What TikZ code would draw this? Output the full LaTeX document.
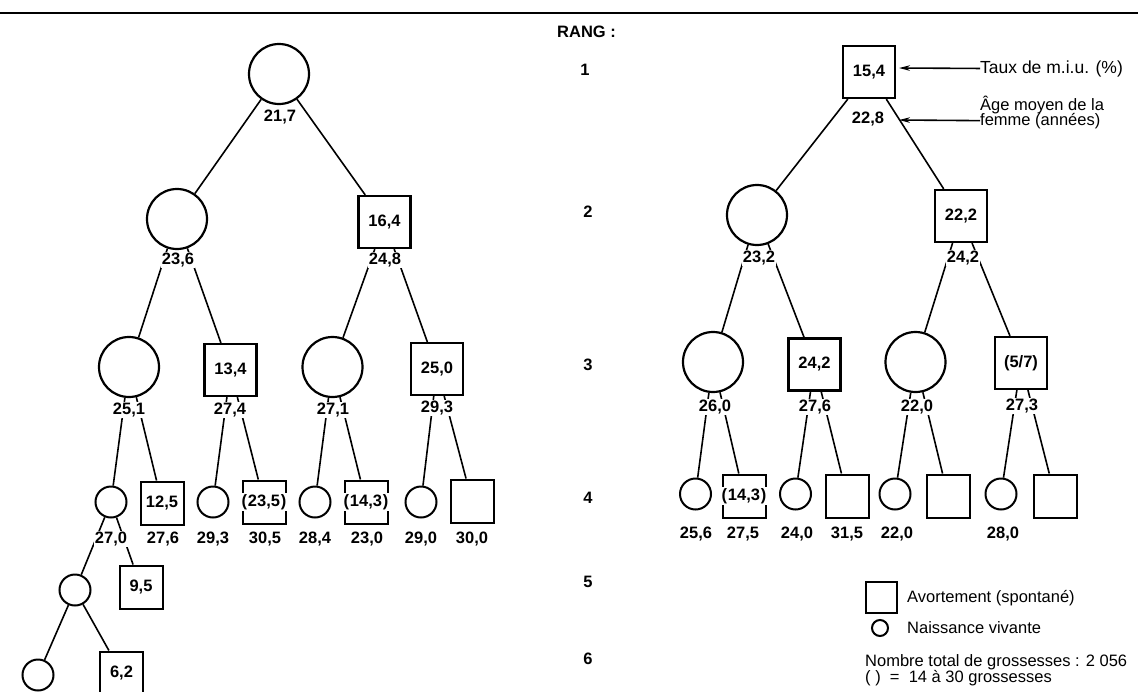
\documentclass[tikz,border=0pt]{standalone}
\usepackage{fontspec}
\setmainfont{Liberation Sans}
\usetikzlibrary{arrows.meta}
\newcommand\numfont{\fontsize{16.5}{18}\selectfont\bfseries}
\newcommand\legfont{\fontsize{16.5}{17}\selectfont}
\begin{document}
\begin{tikzpicture}[x=1pt,y=-1pt,
  bc/.style={draw, circle, line width=2.2pt, minimum size=60pt, inner sep=0pt},
  sc/.style={draw, circle, line width=2pt, minimum size=31pt, inner sep=0pt},
  bs/.style={draw, rectangle, line width=2.2pt, minimum size=52pt, inner sep=0pt, font=\numfont},
  ss/.style={draw, rectangle, line width=2pt, minimum size=43pt, inner sep=0pt, font=\numfont},
  brk/.style={fill=white, inner xsep=0pt, inner ysep=1pt, font=\numfont},
  lab/.style={fill=white, inner sep=1pt, font=\numfont},
  edge/.style={line width=1.6pt},
  rang/.style={font=\numfont},
  leg/.style={font=\legfont, inner sep=0pt, anchor=base west},
  ptr/.style={line width=1.6pt, -{Stealth[length=11pt,width=5.5pt]}}]
\useasboundingbox (0,0) rectangle (1138,691);
\clip (0,0) rectangle (1138,691);
\draw[line width=2.2pt] (0,13) -- (1138,13);

% ---------- left tree ----------
\node[bc] (L1) at (279,74) {};
\node[bc] (L2a) at (177,219) {};
\node[bs] (L2b) at (384.5,222) {16,4};
\node[bc] (L3a) at (129,367) {};
\node[bs] (L3b) at (230.5,370) {13,4};
\node[bc] (L3c) at (332.5,367) {};
\node[bs] (L3d) at (437,369) {25,0};
\node[sc] (L4a) at (111,502) {};
\node[ss] (L4b) at (162,503) {12,5};
\node[sc] (L4c) at (213,502) {};
\node[ss] (L4d) at (264,502) {};
\node[sc] (L4e) at (315,502) {};
\node[ss] (L4f) at (366,502) {};
\node[sc] (L4g) at (421,502) {};
\node[ss] (L4h) at (472,501) {};
\node[sc] (L5a) at (75,590) {};
\node[ss] (L5b) at (141,587) {9,5};
\node[sc] (L6a) at (38,675) {};
\node[ss] (L6b) at (121.5,673) {6,2};

\foreach \a/\b in {L1/L2a,L1/L2b,L2a/L3a,L2a/L3b,L2b/L3c,L2b/L3d,
  L3a/L4a,L3a/L4b,L3b/L4c,L3b/L4d,L3c/L4e,L3c/L4f,L3d/L4g,L3d/L4h,
  L4a/L5a,L4a/L5b,L5a/L6a,L5a/L6b}
  \draw[edge] (\a) -- (\b);

\node[brk] (L4dt) at (L4d) {\hbox to 45pt{(\hfil 23,5\hfil)}};
\node[brk] (L4ft) at (L4f) {\hbox to 45pt{(\hfil 14,3\hfil)}};

\node[lab] (l1) at (280,117) {21,7};
\node[lab] (l2a) at (178,260) {23,6};
\node[lab] (l2b) at (385,260) {24,8};
\node[lab] (l3a) at (129,410) {25,1};
\node[lab] (l3b) at (230,410) {27,4};
\node[lab] (l3c) at (333,410) {27,1};
\node[lab] (l3d) at (437,408) {29,3};
\node[lab] (l4a) at (111,539) {27,0};
\node[lab] (l4b) at (163,539) {27,6};
\node[lab] (l4c) at (213,539) {29,3};
\node[lab] (l4d) at (265,539) {30,5};
\node[lab] (l4e) at (315,539) {28,4};
\node[lab] (l4f) at (367,539) {23,0};
\node[lab] (l4g) at (421,539) {29,0};
\node[lab] (l4h) at (472,539) {30,0};

% ---------- rank column ----------
\node[rang, anchor=base west, inner sep=0pt] (rang) at (557,37) {RANG :};
\node[rang] (r1) at (585,70) {1};
\node[rang] (r2) at (588,212) {2};
\node[rang] (r3) at (588,365) {3};
\node[rang] (r4) at (588,498) {4};
\node[rang] (r5) at (588,582) {5};
\node[rang] (r6) at (588,659) {6};

% ---------- right tree ----------
\node[bs] (R1) at (869,72) {15,4};
\node[bc] (R2a) at (757,215) {};
\node[bs] (R2b) at (961,216) {22,2};
\node[bc] (R3a) at (713,362) {};
\node[bs] (R3b) at (814.5,364.5) {24,2};
\node[bc] (R3c) at (915.5,362) {};
\node[bs] (R3d) at (1021,363) {(5/7)};
\node[sc] (R4a) at (695.5,494) {};
\node[ss] (R4b) at (744,496) {};
\node[sc] (R4c) at (795.5,494) {};
\node[ss] (R4d) at (847,496) {};
\node[sc] (R4e) at (895,494) {};
\node[ss] (R4f) at (948,496) {};
\node[sc] (R4g) at (1001,494) {};
\node[ss] (R4h) at (1055,496) {};

\foreach \a/\b in {R1/R2a,R1/R2b,R2a/R3a,R2a/R3b,R2b/R3c,R2b/R3d,
  R3a/R4a,R3a/R4b,R3b/R4c,R3b/R4d,R3c/R4e,R3c/R4f,R3d/R4g,R3d/R4h}
  \draw[edge] (\a) -- (\b);

\node[brk] (R4bt) at (R4b) {\hbox to 45pt{(\hfil 14,3\hfil)}};

\node[lab] (m1) at (868,119) {22,8};
\node[lab] (m2a) at (759,258) {23,2};
\node[lab] (m2b) at (963,258) {24,2};
\node[lab] (m3a) at (715,407) {26,0};
\node[lab] (m3b) at (815,407) {27,6};
\node[lab] (m3c) at (917,407) {22,0};
\node[lab] (m3d) at (1022,406) {27,3};
\node[lab] (m4a) at (696,534) {25,6};
\node[lab] (m4b) at (743,534) {27,5};
\node[lab] (m4c) at (797,534) {24,0};
\node[lab] (m4d) at (847,534) {31,5};
\node[lab] (m4e) at (897,534) {22,0};
\node[lab] (m4g) at (1003,534) {28,0};

% ---------- annotations ----------
\node[leg, font=\fontsize{17.5}{18}\selectfont] (taux) at (980,73) {Taux de m.i.u. (\%)};
\node[leg] (age1) at (980,110) {Âge moyen de la};
\node[leg] (age2) at (980,125) {femme (années)};
\coordinate (tauxend) at (899,68);
\coordinate (ageend) at (899,120);
\draw[ptr] (taux.west) -- (tauxend);
\draw[ptr] (age2.west) -- (ageend);

% ---------- legend ----------
\node[draw, rectangle, line width=2pt, minimum size=31pt, inner sep=0pt] (legsq) at (881,597.5) {};
\node[leg] (legsqt) at (907,602) {Avortement (spontané)};
\node[draw, circle, line width=2pt, minimum size=16pt, inner sep=0pt] (legci) at (880,628) {};
\node[leg] (legcit) at (907,633) {Naissance vivante};
\node[leg] (tot) at (865,666) {Nombre total de grossesses : 2 056};
\node[leg] (par) at (865,682) {( )\ \ =\ \ 14 à 30 grossesses};
\end{tikzpicture}
\end{document}
